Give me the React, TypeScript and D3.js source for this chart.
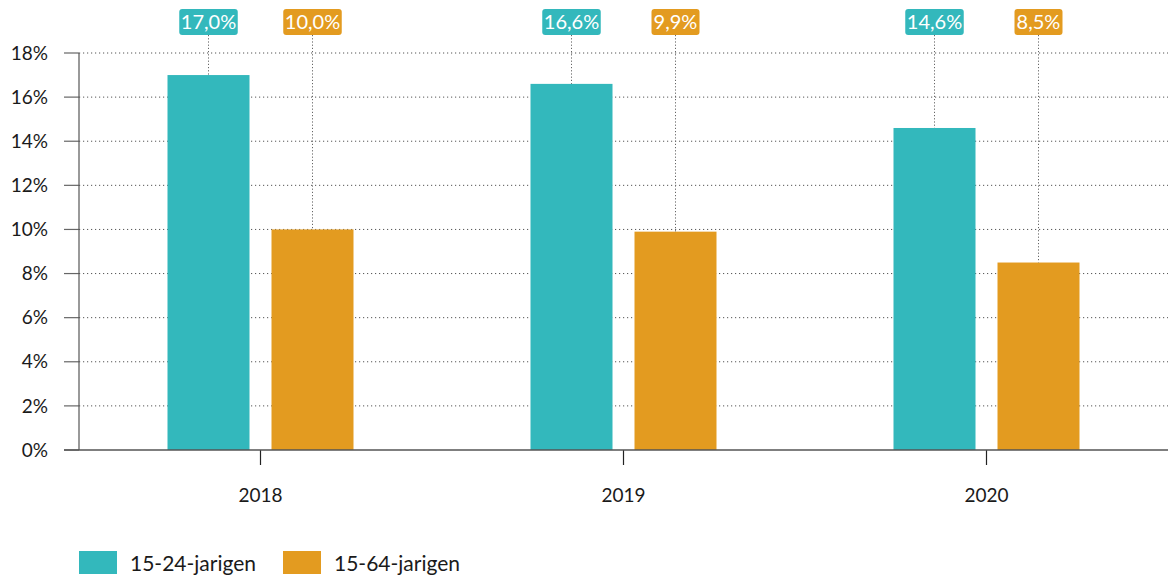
import React from "react";
import * as d3 from "d3";

const years = ["2018", "2019", "2020"];
const youth = [17.0, 16.6, 14.6];
const adults = [10.0, 9.9, 8.5];
const seriesNames = ["15-24-jarigen", "15-64-jarigen"];
const colors = ["#33b8bc", "#e39b20"];
const yTicks = [0, 2, 4, 6, 8, 10, 12, 14, 16, 18];

const W = 1171, H = 580;
const left = 79, right = 1168, top = 53, bottom = 450;
const font = "Lato, 'Open Sans', sans-serif";

export default function App() {
  const x = d3.scaleBand().domain(years).range([left, right]);
  const y = d3.scaleLinear().domain([0, 18]).range([bottom, top]);
  const fmt = (v: number) => v.toFixed(1).replace(".", ",") + "%";
  const series = [youth, adults];
  const barW = 82, gap = 22;
  return (
    <svg width={W} height={H} style={{ position: "absolute", left: 0, top: 0, background: "#fff" }} fontFamily={font}>
      {yTicks.map((t) => (
        <g key={t}>
          {t > 0 && (
            <line x1={left} x2={right} y1={y(t)} y2={y(t)} stroke="#555" strokeWidth={1} strokeDasharray="1.2,2.8" />
          )}
          <line x1={64} x2={left} y1={y(t)} y2={y(t)} stroke="#666" strokeWidth={1.2} />
          <text x={48} y={y(t)} dy="0.35em" textAnchor="end" fontSize={19} fill="#1a1a1a">{t}%</text>
        </g>
      ))}
      <line x1={left} x2={left} y1={top} y2={bottom} stroke="#555" strokeWidth={1.2} />
      {years.map((yr, i) => {
        const c = x(yr)! + x.bandwidth() / 2;
        return (
          <g key={yr}>
            {series.map((s, k) => {
              const bx = k === 0 ? c - gap / 2 - barW : c + gap / 2;
              const cx = bx + barW / 2;
              const label = fmt(s[i]);
              const bw = label.length * 10.5 + 6;
              return (
                <g key={k}>
                  <rect x={bx} y={y(s[i])} width={barW} height={bottom - y(s[i])} fill={colors[k]} />
                  <line x1={cx} x2={cx} y1={35} y2={y(s[i])} stroke="#666" strokeWidth={1} strokeDasharray="1.2,2" />
                  <rect x={cx - bw / 2} y={9} width={bw} height={26} rx={3} fill={colors[k]} />
                  <text x={cx} y={22} dy="0.36em" textAnchor="middle" fontSize={20} fill="#fff">{label}</text>
                </g>
              );
            })}
            <line x1={c} x2={c} y1={bottom} y2={465} stroke="#222" strokeWidth={1.2} />
            <text x={c} y={495} dy="0.35em" textAnchor="middle" fontSize={19} fill="#1a1a1a">{yr}</text>
          </g>
        );
      })}
      <line x1={64} x2={right} y1={bottom} y2={bottom} stroke="#555" strokeWidth={1.5} />
      {seriesNames.map((n, k) => (
        <g key={n} transform={`translate(${79 + k * 204},551)`}>
          <rect x={0} y={0} width={38} height={23} fill={colors[k]} />
          <text x={51} y={13} dy="0.35em" fontSize={21} fill="#1a1a1a">{n}</text>
        </g>
      ))}
    </svg>
  );
}
